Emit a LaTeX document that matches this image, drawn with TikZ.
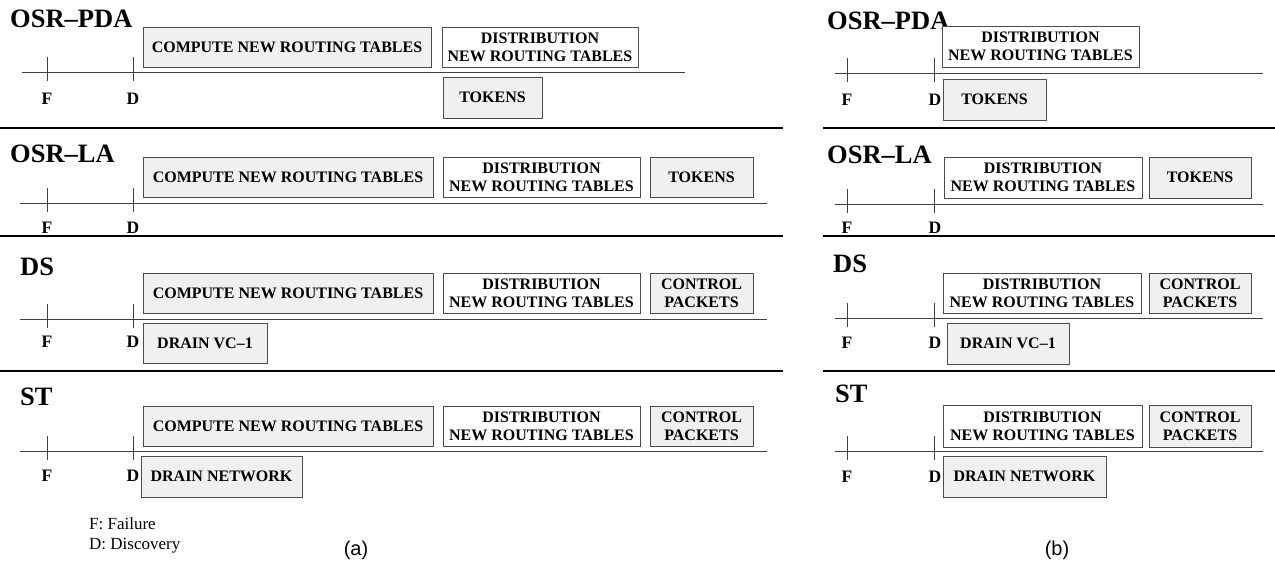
\documentclass[tikz,border=0pt]{standalone}
\usepackage{fontspec}
\setmainfont{Liberation Serif}
\setsansfont{Liberation Sans}

\tikzset{
  task/.style={draw=black!70, fill=white, inner sep=0pt, align=center,
    font=\bfseries\fontsize{16}{18}\selectfont},
  graytask/.style={task, fill=black!6},
  proto/.style={anchor=base west, inner sep=0pt, font=\bfseries\fontsize{26.5}{28}\selectfont},
  event/.style={inner sep=0pt, font=\bfseries\fontsize{17.5}{19}\selectfont},
  legend/.style={anchor=west, inner sep=0pt, font=\fontsize{17}{19}\selectfont},
  panel/.style={inner sep=0pt, font=\sffamily\fontsize{20}{22}\selectfont},
  timeline/.style={draw=black!75, line width=0.8pt},
  separator/.style={line width=2.5pt}
}

\begin{document}
\begin{tikzpicture}[x=1pt,y=-1pt]
  \useasboundingbox (0,0) rectangle (1275,563);
  % Separators between the schemes
  \foreach \y in {128,236,371} {
    \draw[separator] (0,\y) -- (783,\y);
    \draw[separator] (823,\y) -- (1275,\y);
  }
  % Time lines with F and D ticks
  \draw[timeline] (22,72) -- (685,72);
  \foreach \y in {203,319,451}
    \draw[timeline] (20,\y) -- (767,\y);
  \foreach \y in {73,204,318,451}
    \draw[timeline] (835,\y) -- (1263,\y);
  \foreach \y in {72,203,319,451} {
    \draw[timeline] (47,\y-15) -- (47,\y+9);
    \draw[timeline] (133,\y-15) -- (133,\y+9);
  }
  \foreach \y in {73,204,318,451} {
    \draw[timeline] (847,\y-15) -- (847,\y+9);
    \draw[timeline] (934,\y-15) -- (934,\y+9);
  }

  % (a) OSR-PDA
  \node[proto] (aPda) at (10,27) {OSR--PDA};
  \node[graytask, minimum width=288pt, minimum height=40pt] (aPdaCompute) at (287,47) {COMPUTE NEW ROUTING TABLES};
  \node[task, minimum width=196pt, minimum height=40pt] (aPdaDist) at (540,47) {DISTRIBUTION\\NEW ROUTING TABLES};
  \node[graytask, minimum width=99pt, minimum height=41pt] (aPdaTokens) at (492.5,97.5) {TOKENS};
  \node[event] (aPdaF) at (47,99) {F};
  \node[event] (aPdaD) at (133,99) {D};
  % (a) OSR-LA
  \node[proto] (aLa) at (10,162) {OSR--LA};
  \node[graytask, minimum width=290pt, minimum height=40pt] (aLaCompute) at (288,177) {COMPUTE NEW ROUTING TABLES};
  \node[task, minimum width=197pt, minimum height=40pt] (aLaDist) at (541.5,177) {DISTRIBUTION\\NEW ROUTING TABLES};
  \node[graytask, minimum width=103pt, minimum height=40pt] (aLaTokens) at (701.5,177) {TOKENS};
  \node[event] (aLaF) at (47,228) {F};
  \node[event] (aLaD) at (133,228) {D};
  % (a) DS
  \node[proto] (aDs) at (20,275) {DS};
  \node[graytask, minimum width=290pt, minimum height=40pt] (aDsCompute) at (288,293) {COMPUTE NEW ROUTING TABLES};
  \node[task, minimum width=197pt, minimum height=40pt] (aDsDist) at (541.5,293) {DISTRIBUTION\\NEW ROUTING TABLES};
  \node[graytask, minimum width=103pt, minimum height=40pt] (aDsCtrl) at (701.5,293) {CONTROL\\PACKETS};
  \node[graytask, minimum width=124pt, minimum height=40pt] (aDsDrain) at (205,343) {DRAIN VC--1};
  \node[event] (aDsF) at (47,342) {F};
  \node[event] (aDsD) at (133,342) {D};
  % (a) ST
  \node[proto] (aSt) at (20,405) {ST};
  \node[graytask, minimum width=290pt, minimum height=40pt] (aStCompute) at (288,426) {COMPUTE NEW ROUTING TABLES};
  \node[task, minimum width=197pt, minimum height=40pt] (aStDist) at (541.5,426) {DISTRIBUTION\\NEW ROUTING TABLES};
  \node[graytask, minimum width=103pt, minimum height=40pt] (aStCtrl) at (701.5,426) {CONTROL\\PACKETS};
  \node[graytask, minimum width=161pt, minimum height=41pt] (aStDrain) at (221.5,476.5) {DRAIN NETWORK};
  \node[event] (aStF) at (47,476) {F};
  \node[event] (aStD) at (133,476) {D};
  % legend
  \node[legend] (failure) at (89,524) {F: Failure};
  \node[legend] (discovery) at (89,546) {D: Discovery};
  \node[panel] (panelA) at (356,550) {(a)};

  % (b) OSR-PDA
  \node[proto] (bPda) at (827,29) {OSR--PDA};
  \node[task, minimum width=197pt, minimum height=41pt] (bPdaDist) at (1040.5,46.5) {DISTRIBUTION\\NEW ROUTING TABLES};
  \node[graytask, minimum width=103pt, minimum height=41pt] (bPdaTokens) at (994.5,99.5) {TOKENS};
  \node[event] (bPdaF) at (847,100) {F};
  \node[event] (bPdaD) at (935,100) {D};
  % (b) OSR-LA
  \node[proto] (bLa) at (827,163) {OSR--LA};
  \node[task, minimum width=198pt, minimum height=41pt] (bLaDist) at (1043,177.5) {DISTRIBUTION\\NEW ROUTING TABLES};
  \node[graytask, minimum width=102pt, minimum height=41pt] (bLaTokens) at (1200,177.5) {TOKENS};
  \node[event] (bLaF) at (847,228) {F};
  \node[event] (bLaD) at (935,228) {D};
  % (b) DS
  \node[proto] (bDs) at (833,272) {DS};
  \node[task, minimum width=198pt, minimum height=40pt] (bDsDist) at (1042,293) {DISTRIBUTION\\NEW ROUTING TABLES};
  \node[graytask, minimum width=102pt, minimum height=40pt] (bDsCtrl) at (1200,293) {CONTROL\\PACKETS};
  \node[graytask, minimum width=122pt, minimum height=41pt] (bDsDrain) at (1008,343.5) {DRAIN VC--1};
  \node[event] (bDsF) at (847,343) {F};
  \node[event] (bDsD) at (935,343) {D};
  % (b) ST
  \node[proto] (bSt) at (835,402) {ST};
  \node[task, minimum width=199pt, minimum height=42pt] (bStDist) at (1042.5,426) {DISTRIBUTION\\NEW ROUTING TABLES};
  \node[graytask, minimum width=102pt, minimum height=42pt] (bStCtrl) at (1200,426) {CONTROL\\PACKETS};
  \node[graytask, minimum width=163pt, minimum height=41pt] (bStDrain) at (1024.5,476.5) {DRAIN NETWORK};
  \node[event] (bStF) at (847,477) {F};
  \node[event] (bStD) at (935,477) {D};
  \node[panel] (panelB) at (1057,550) {(b)};
\end{tikzpicture}
\end{document}
